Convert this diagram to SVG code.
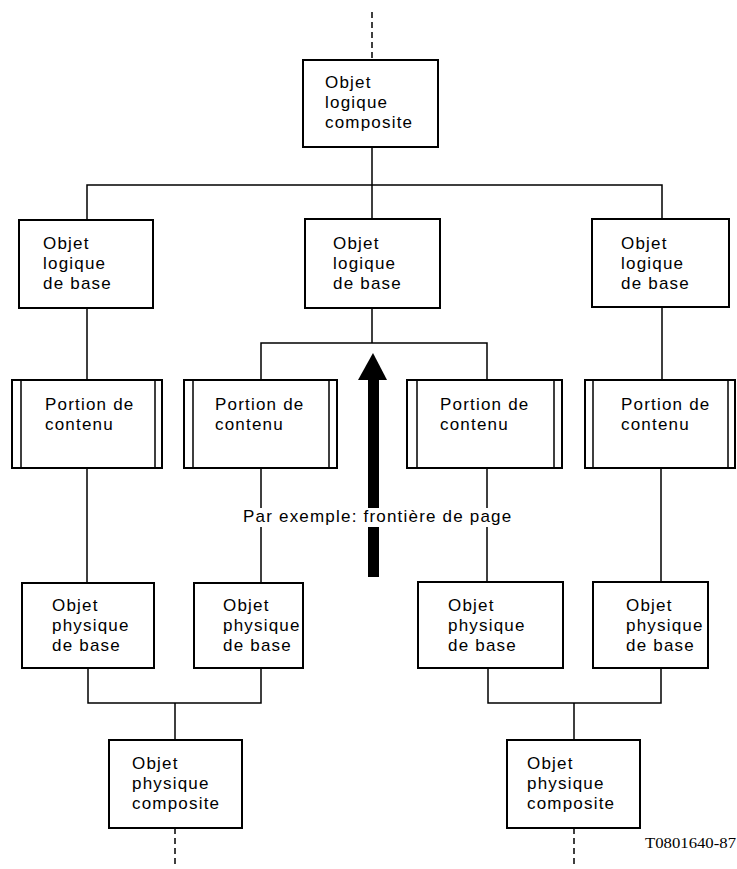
<svg xmlns="http://www.w3.org/2000/svg" width="737" height="869" viewBox="0 0 737 869">
  <style>
    .box { fill: #fff; stroke: #000; stroke-width: 2; }
    .edge { fill: none; stroke: #000; stroke-width: 1.5; }
    .dash { fill: none; stroke: #000; stroke-width: 1.5; stroke-dasharray: 6 4; }
    .lbl { font-family: "Liberation Sans", Arial, sans-serif; font-size: 17px; letter-spacing: 1.2px; fill: #000; }
    .ref { font-family: "Liberation Serif", "Times New Roman", serif; font-size: 15px; fill: #000; }
  </style>
  <rect width="737" height="869" fill="#fff"/>

  <!-- connectors -->
  <g id="connectors">
    <path class="dash" d="M372 12 V60"/>
    <path class="edge" d="M372 147 V219 M87 220 V185 H662 V219"/>
    <path class="edge" d="M87 308 V380 M662 307 V380"/>
    <path class="edge" d="M372 308 V343 M261 380 V343 H487 V380"/>
    <path class="edge" d="M87 468 V583 M661 468 V583"/>
    <path class="edge" d="M261 468 V508 M261 527 V583 M487 468 V508 M487 527 V583"/>
    <path class="edge" d="M88 668 V703 H261 V668 M175 703 V740"/>
    <path class="edge" d="M488 668 V703 H661 V668 M574 703 V740"/>
    <path class="dash" d="M175 828 V868 M574 828 V868"/>
  </g>

  <!-- page boundary arrow -->
  <g id="boundary">
    <polygon points="373,353 358,380 387,380" fill="#000"/>
    <rect x="368" y="379" width="11" height="129" fill="#000"/>
    <rect x="368" y="527" width="11" height="50" fill="#000"/>
    <text class="lbl" x="243" y="522">Par exemple: frontière de page</text>
  </g>

  <!-- composite logical object -->
  <g id="logique-composite">
    <rect class="box" x="303" y="60" width="135" height="87"/>
    <text class="lbl" x="325" y="88">Objet</text>
    <text class="lbl" x="325" y="108">logique</text>
    <text class="lbl" x="325" y="128">composite</text>
  </g>

  <!-- basic logical objects -->
  <g id="logique-base-1">
    <rect class="box" x="19" y="220" width="134" height="88"/>
    <text class="lbl" x="43" y="249">Objet</text>
    <text class="lbl" x="43" y="269">logique</text>
    <text class="lbl" x="43" y="289">de base</text>
  </g>
  <g id="logique-base-2">
    <rect class="box" x="305" y="219" width="135" height="89"/>
    <text class="lbl" x="333" y="249">Objet</text>
    <text class="lbl" x="333" y="269">logique</text>
    <text class="lbl" x="333" y="289">de base</text>
  </g>
  <g id="logique-base-3">
    <rect class="box" x="592" y="219" width="137" height="88"/>
    <text class="lbl" x="621" y="249">Objet</text>
    <text class="lbl" x="621" y="269">logique</text>
    <text class="lbl" x="621" y="289">de base</text>
  </g>

  <!-- content portions (double side bars) -->
  <g id="portion-1">
    <rect class="box" x="12" y="380" width="150" height="88"/>
    <path class="edge" d="M21 380 V468 M155 380 V468"/>
    <text class="lbl" x="45" y="410">Portion de</text>
    <text class="lbl" x="45" y="430">contenu</text>
  </g>
  <g id="portion-2">
    <rect class="box" x="184" y="380" width="153" height="88"/>
    <path class="edge" d="M193 380 V468 M329 380 V468"/>
    <text class="lbl" x="215" y="410">Portion de</text>
    <text class="lbl" x="215" y="430">contenu</text>
  </g>
  <g id="portion-3">
    <rect class="box" x="407" y="380" width="155" height="88"/>
    <path class="edge" d="M417 380 V468 M554 380 V468"/>
    <text class="lbl" x="440" y="410">Portion de</text>
    <text class="lbl" x="440" y="430">contenu</text>
  </g>
  <g id="portion-4">
    <rect class="box" x="585" y="380" width="150" height="88"/>
    <path class="edge" d="M593 380 V468 M728 380 V468"/>
    <text class="lbl" x="621" y="410">Portion de</text>
    <text class="lbl" x="621" y="430">contenu</text>
  </g>

  <!-- basic physical objects -->
  <g id="physique-base-1">
    <rect class="box" x="22" y="583" width="132" height="85"/>
    <text class="lbl" x="52" y="611">Objet</text>
    <text class="lbl" x="52" y="631">physique</text>
    <text class="lbl" x="52" y="651">de base</text>
  </g>
  <g id="physique-base-2">
    <rect class="box" x="194" y="583" width="109" height="85"/>
    <text class="lbl" x="223" y="611">Objet</text>
    <text class="lbl" x="223" y="631">physique</text>
    <text class="lbl" x="223" y="651">de base</text>
  </g>
  <g id="physique-base-3">
    <rect class="box" x="418" y="582" width="145" height="86"/>
    <text class="lbl" x="448" y="611">Objet</text>
    <text class="lbl" x="448" y="631">physique</text>
    <text class="lbl" x="448" y="651">de base</text>
  </g>
  <g id="physique-base-4">
    <rect class="box" x="593" y="582" width="115" height="86"/>
    <text class="lbl" x="626" y="611">Objet</text>
    <text class="lbl" x="626" y="631">physique</text>
    <text class="lbl" x="626" y="651">de base</text>
  </g>

  <!-- composite physical objects -->
  <g id="physique-composite-1">
    <rect class="box" x="109" y="740" width="133" height="88"/>
    <text class="lbl" x="132" y="769">Objet</text>
    <text class="lbl" x="132" y="789">physique</text>
    <text class="lbl" x="132" y="809">composite</text>
  </g>
  <g id="physique-composite-2">
    <rect class="box" x="507" y="740" width="133" height="88"/>
    <text class="lbl" x="527" y="769">Objet</text>
    <text class="lbl" x="527" y="789">physique</text>
    <text class="lbl" x="527" y="809">composite</text>
  </g>

  <text class="ref" x="645" y="848" textLength="91" lengthAdjust="spacingAndGlyphs">T0801640-87</text>
</svg>
